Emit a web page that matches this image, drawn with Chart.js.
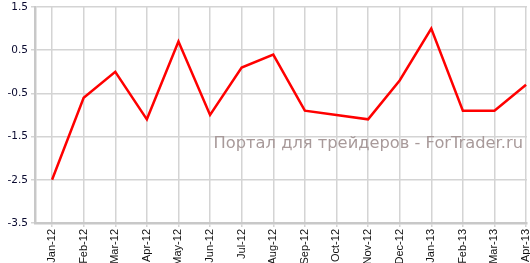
<!DOCTYPE html>
<html>
<head>
<meta charset="utf-8">
<script src="https://cdn.jsdelivr.net/npm/chart.js@4"></script>
<style>
  html, body { margin: 0; padding: 0; background: #fff; }
  #wrap { width: 530px; height: 263px; }
</style>
</head>
<body>
<div id="wrap"><canvas id="chart" width="530" height="263"></canvas></div>
<script>
// Data
const months = ['Jan-12', 'Feb-12', 'Mar-12', 'Apr-12', 'May-12', 'Jun-12', 'Jul-12', 'Aug-12',
    'Sep-12', 'Oct-12', 'Nov-12', 'Dec-12', 'Jan-13', 'Feb-13', 'Mar-13', 'Apr-13'];
const values = [-2.5, -0.6, 0.0, -1.1, 0.7, -1.0, 0.1, 0.4, -0.9, -1.0, -1.1, -0.2, 1.0, -0.9, -0.9, -0.3];
const yTicks = [1.5, 0.5, -0.5, -1.5, -2.5, -3.5];

// Watermark across the plot
const watermark = {
    id: 'watermark',
    afterDatasetsDraw(chart) {
        const ctx = chart.ctx;
        ctx.save();
        ctx.font = '16.3px "DejaVu Sans", Verdana, sans-serif';
        ctx.fillStyle = '#a89a9a';
        ctx.textAlign = 'right';
        ctx.textBaseline = 'alphabetic';
        ctx.fillText('Портал для трейдеров - ForTrader.ru', 523, 148);
        ctx.restore();
    }
};

const ctx = document.getElementById('chart').getContext('2d');
new Chart(ctx, {
    type: 'line',
    data: {
        datasets: [{
            data: values.map((v, i) => ({ x: i, y: v })),
            borderColor: '#ff0000',
            borderWidth: 2.5,
            pointRadius: 0,
            tension: 0,
            fill: false
        }]
    },
    options: {
        responsive: false,
        animation: false,
        layout: { padding: { top: 7, right: 3, bottom: 0, left: 0 } },
        plugins: {
            legend: { display: false },
            tooltip: { enabled: false }
        },
        scales: {
            x: {
                type: 'linear',
                min: -0.54,
                max: 15.03,
                afterBuildTicks: scale => { scale.ticks = months.map((m, i) => ({ value: i })); },
                afterFit: scale => {
                    scale.height = 40;
                    scale.paddingLeft = 0;
                    scale.paddingRight = 0;
                },
                ticks: {
                    autoSkip: false,
                    maxRotation: 90,
                    minRotation: 90,
                    padding: 2,
                    color: '#111',
                    font: { family: '"Liberation Sans", Arial, sans-serif', size: 11 },
                    callback: v => months[v]
                },
                grid: { color: '#d4d4d4', lineWidth: 1.5, tickLength: 4 },
                border: { color: '#c8c8c8', width: 2.5 }
            },
            y: {
                min: -3.5,
                max: 1.5,
                afterBuildTicks: scale => { scale.ticks = yTicks.map(v => ({ value: v })); },
                afterFit: scale => {
                    scale.width = 35;
                    scale.paddingTop = 0;
                    scale.paddingBottom = 0;
                },
                ticks: {
                    padding: 3,
                    color: '#0a0a30',
                    font: { family: '"DejaVu Sans", Verdana, sans-serif', size: 10.5 },
                    callback: v => v.toFixed(1)
                },
                grid: { color: '#d4d4d4', lineWidth: 1.5, tickLength: 4 },
                border: { color: '#c8c8c8', width: 2.5 }
            }
        }
    },
    plugins: [watermark]
});
</script>
</body>
</html>
